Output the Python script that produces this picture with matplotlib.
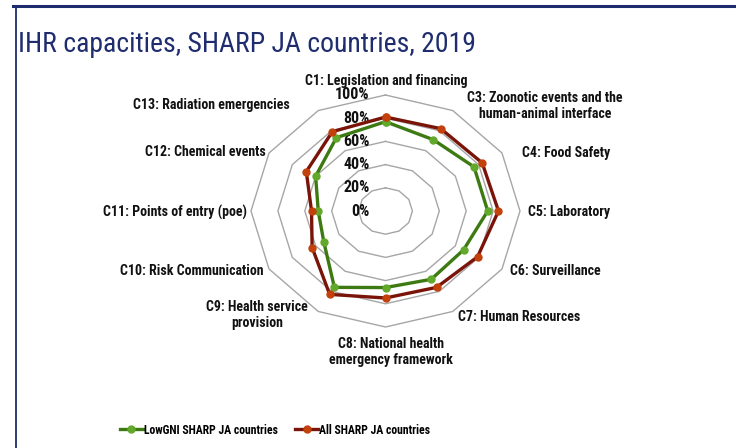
import numpy as np
import matplotlib
matplotlib.use("Agg")
import matplotlib.pyplot as plt
from matplotlib import font_manager
from matplotlib.lines import Line2D

# --- Daten ---
CATEGORIES = [
    "C1: Legislation and financing",
    "C3: Zoonotic events and the\nhuman-animal interface",
    "C4: Food Safety",
    "C5: Laboratory",
    "C6: Surveillance",
    "C7: Human Resources",
    "C8: National health\nemergency framework",
    "C9: Health service\nprovision",
    "C10: Risk Communication",
    "C11: Points of entry (poe)",
    "C12: Chemical events",
    "C13: Radiation emergencies",
]
LOW_GNI = [77, 71, 76, 76, 67, 68, 66, 76, 53, 50, 60, 73]
ALL_SHARP = [81, 82, 83, 84, 79, 76, 75, 83, 63, 55, 68, 79]
RINGS = [0, 20, 40, 60, 80, 100]
SERIES_NAMES = ["LowGNI SHARP JA countries", "All SHARP JA countries"]
TITLE = "IHR capacities, SHARP JA countries, 2019"

# --- Stil ---
W, H = 736, 448
NAVY = "#1f2d6e"
GREEN_LINE, GREEN_MARK = "#3d7a12", "#62a82a"
RED_LINE, RED_MARK = "#7a1408", "#c2410c"
GRID = "#a6a6a6"

# Beschriftungspositionen in Pixeln (x, y, ha)
LABEL_POS = [
    (386, 81, "center"), (545, 106, "center"), (522, 153, "left"),
    (528, 212, "left"), (510, 271, "left"), (458, 317, "left"),
    (391, 352, "center"), (257, 315, "center"), (264, 271, "right"),
    (247, 212, "right"), (266, 152, "right"), (290, 105, "right"),
]


def pick_font(candidates):
    names = {f.name for f in font_manager.fontManager.ttflist}
    for c in candidates:
        if c in names:
            return c
    return "DejaVu Sans"


FONT = pick_font(["Liberation Sans Narrow", "DejaVu Sans Condensed", "Roboto Condensed",
                  "Open Sans Condensed", "Liberation Sans"])
plt.rcParams["font.family"] = [FONT, "DejaVu Sans"]


def fx(px):
    return px / W


def fy(py):
    return 1 - py / H


def main():
    fig = plt.figure(figsize=(W / 100, H / 100), dpi=100)
    fig.patch.set_facecolor("white")

    # Rahmen oben/links
    fig.add_artist(Line2D([fx(13), 1], [fy(6.5), fy(6.5)], color=NAVY, lw=2.2))
    fig.add_artist(Line2D([fx(16), fx(16)], [fy(6.5), 0], color=NAVY, lw=1.3))

    fig.text(fx(18), fy(45), TITLE, fontsize=20, color=NAVY, ha="left", va="center")

    # Netzdiagramm (horizontal gestreckt wie im Original)
    ax = fig.add_axes([fx(251), fy(327), fx(520) - fx(251), (327 - 95) / H])
    ax.set_xlim(-100, 100)
    ax.set_ylim(-100, 100)
    ax.axis("off")

    n = len(CATEGORIES)
    ang = np.arange(n) * 2 * np.pi / n
    ang_c = np.append(ang, ang[0])

    for r in RINGS[1:]:
        ax.plot(r * np.sin(ang_c), r * np.cos(ang_c), color=GRID, lw=1.0, clip_on=False, zorder=1)

    for r in RINGS:
        ax.annotate(f"{r}%", xy=(0, r), xytext=(-11.5, 0), textcoords="offset points",
                    ha="right", va="center", fontsize=11.5, fontweight="bold", color="#111111")

    handles = []
    for vals, lc, mc, name in [(LOW_GNI, GREEN_LINE, GREEN_MARK, SERIES_NAMES[0]),
                               (ALL_SHARP, RED_LINE, RED_MARK, SERIES_NAMES[1])]:
        v = np.append(vals, vals[0])
        h, = ax.plot(v * np.sin(ang_c), v * np.cos(ang_c), color=lc, lw=2.4, marker="o",
                     markersize=5, markerfacecolor=mc, markeredgecolor=mc, clip_on=False,
                     zorder=3, label=name)
        handles.append(h)

    for lab, (x, y, ha) in zip(CATEGORIES, LABEL_POS):
        fig.text(fx(x), fy(y), lab, ha=ha, va="center", multialignment="center",
                 fontsize=10, fontweight="bold", color="#111111", linespacing=1.25)

    fig.legend(handles=handles, loc="center", bbox_to_anchor=(fx(275), fy(430)), ncol=2,
               frameon=False, handlelength=1.9, handletextpad=0.1,
               columnspacing=1.5, prop={"weight": "bold", "size": 8.5})

    fig.savefig("out.png", dpi=100)


if __name__ == "__main__":
    main()
